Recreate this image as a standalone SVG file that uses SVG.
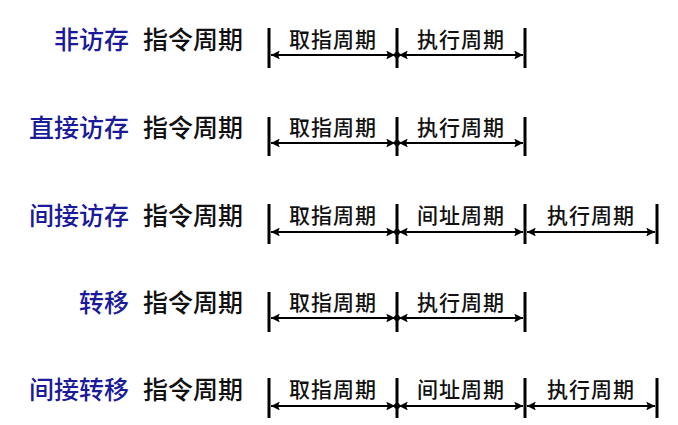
<svg xmlns="http://www.w3.org/2000/svg" width="678" height="425" viewBox="0 0 678 425">
<style>
.lbl{font-family:"Noto Sans CJK SC","Noto Sans",sans-serif;font-size:25px;font-weight:500;dominant-baseline:central}
.blue{fill:#1a1a9a;text-anchor:end}
.blk{fill:#111;text-anchor:end}
.seg{font-family:"Noto Sans CJK SC","Noto Sans",sans-serif;font-size:21px;font-weight:500;fill:#111;text-anchor:middle;dominant-baseline:central;letter-spacing:1px}
.bar{stroke:#000;stroke-width:3}
.arr{stroke:#000;stroke-width:2.2;marker-start:url(#ah);marker-end:url(#ah)}
</style>
<defs>
<marker id="ah" viewBox="0 0 10 10" refX="10" refY="5" markerWidth="4" markerHeight="4" orient="auto-start-reverse" markerUnits="strokeWidth">
<path d="M0,0 L10,5 L0,10 L2,5 Z" fill="#000"/>
</marker>
</defs>
<rect width="678" height="425" fill="#fff"/>

<g id="row1">
<text class="lbl blue" x="129" y="38">非访存</text>
<text class="lbl blk" x="243" y="38">指令周期</text>
<text class="seg" x="333" y="38">取指周期</text>
<text class="seg" x="461" y="38">执行周期</text>
</g>
<g id="row2">
<text class="lbl blue" x="129" y="126">直接访存</text>
<text class="lbl blk" x="243" y="126">指令周期</text>
<text class="seg" x="333" y="126">取指周期</text>
<text class="seg" x="461" y="126">执行周期</text>
</g>
<g id="row3">
<text class="lbl blue" x="129" y="214">间接访存</text>
<text class="lbl blk" x="243" y="214">指令周期</text>
<text class="seg" x="333" y="214">取指周期</text>
<text class="seg" x="461" y="214">间址周期</text>
<text class="seg" x="591" y="214">执行周期</text>
</g>
<g id="row4">
<text class="lbl blue" x="129" y="301">转移</text>
<text class="lbl blk" x="243" y="301">指令周期</text>
<text class="seg" x="333" y="301">取指周期</text>
<text class="seg" x="461" y="301">执行周期</text>
</g>
<g id="row5">
<text class="lbl blue" x="129" y="388">间接转移</text>
<text class="lbl blk" x="243" y="388">指令周期</text>
<text class="seg" x="333" y="388">取指周期</text>
<text class="seg" x="461" y="388">间址周期</text>
<text class="seg" x="591" y="388">执行周期</text>
</g>

<g id="connectors">
<line class="bar" x1="269" y1="28" x2="269" y2="68"/>
<line class="bar" x1="397" y1="28" x2="397" y2="68"/>
<line class="bar" x1="525" y1="28" x2="525" y2="68"/>
<line class="arr" x1="271" y1="55" x2="395" y2="55"/>
<line class="arr" x1="399" y1="55" x2="523" y2="55"/>
<circle cx="397" cy="55" r="3"/>

<line class="bar" x1="269" y1="117" x2="269" y2="156"/>
<line class="bar" x1="397" y1="117" x2="397" y2="156"/>
<line class="bar" x1="525" y1="117" x2="525" y2="156"/>
<line class="arr" x1="271" y1="143" x2="395" y2="143"/>
<line class="arr" x1="399" y1="143" x2="523" y2="143"/>
<circle cx="397" cy="143" r="3"/>

<line class="bar" x1="269" y1="204" x2="269" y2="244"/>
<line class="bar" x1="397" y1="204" x2="397" y2="244"/>
<line class="bar" x1="525" y1="204" x2="525" y2="244"/>
<line class="bar" x1="657" y1="204" x2="657" y2="244"/>
<line class="arr" x1="271" y1="232" x2="395" y2="232"/>
<line class="arr" x1="399" y1="232" x2="523" y2="232"/>
<line class="arr" x1="527" y1="232" x2="655" y2="232"/>
<circle cx="397" cy="232" r="3"/>

<line class="bar" x1="269" y1="292" x2="269" y2="332"/>
<line class="bar" x1="397" y1="292" x2="397" y2="332"/>
<line class="bar" x1="525" y1="292" x2="525" y2="332"/>
<line class="arr" x1="271" y1="318" x2="395" y2="318"/>
<line class="arr" x1="399" y1="318" x2="523" y2="318"/>
<circle cx="397" cy="318" r="3"/>

<line class="bar" x1="269" y1="378" x2="269" y2="418"/>
<line class="bar" x1="397" y1="378" x2="397" y2="418"/>
<line class="bar" x1="525" y1="378" x2="525" y2="418"/>
<line class="bar" x1="657" y1="378" x2="657" y2="418"/>
<line class="arr" x1="271" y1="406" x2="395" y2="406"/>
<line class="arr" x1="399" y1="406" x2="523" y2="406"/>
<line class="arr" x1="527" y1="406" x2="655" y2="406"/>
<circle cx="397" cy="406" r="3"/>
</g>
</svg>
